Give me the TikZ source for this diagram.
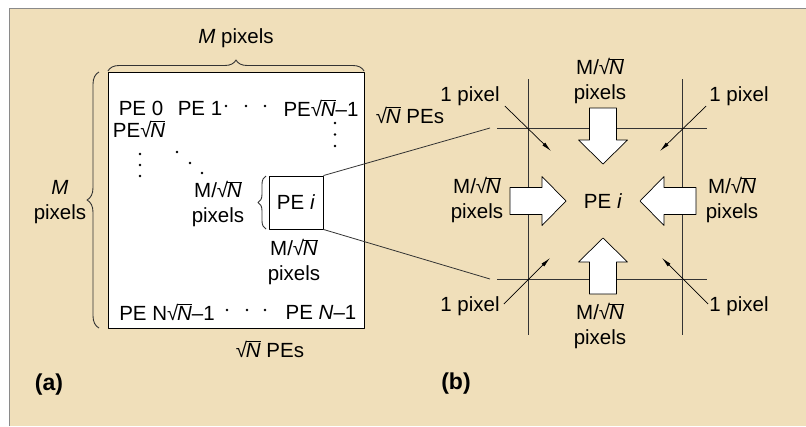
\documentclass[tikz,border=0pt]{standalone}
\usepackage{fontspec}
\setmainfont{Liberation Sans}
\usetikzlibrary{arrows.meta,decorations.pathreplacing}
\definecolor{pbTan}{HTML}{F0DFBA}
\definecolor{pbLine}{HTML}{333333}
\definecolor{pbFrame}{HTML}{8A8A8A}
\newcommand\rootN{√\kern-.06em$\overline{\mbox{\itshape N}}$}
\newcommand\mrootN{M/\rootN}
\begin{document}
\begin{tikzpicture}[x=1pt,y=-1pt,>=Latex,line join=round,font=\fontsize{20.5}{25}\selectfont]
\useasboundingbox (0,0) rectangle (806,426);
\path[fill=pbTan] (9,8) rectangle (806,426);
\draw[pbFrame,line width=0.8pt] (9,426) -- (9,8) -- (806,8);
\tikzset{lbl/.style={inner sep=0pt,align=center,text=black},brace/.style={draw=pbLine,line width=0.9pt,decorate,decoration={brace,amplitude=#1}},gridline/.style={draw=pbLine,line width=0.9pt},ptr/.style={draw=black,line width=0.7pt,-{Latex[length=10pt,width=4pt]}},blk/.style={draw=black,fill=white,line width=0.7pt},dot/.style={fill=black},panel/.style={lbl,font=\fontsize{23}{25}\selectfont\bfseries}}
% (a) the whole image
\node[draw=black,fill=white,line width=0.9pt,minimum size=256pt,inner sep=0pt] (img) at (236,200) {};
\draw[brace=11] (108,71) -- (364,71); \draw[brace=12] (99,328) -- (99,72);
\node[lbl] (mtop) at (236,38) {\textit{M} pixels}; \node[lbl] (mleft) at (60,202) {\textit{M}\\pixels};
\node[lbl] (pe0) at (141,108) {PE 0}; \node[lbl] (pe1) at (200,108) {PE 1}; \node[lbl] (perow) at (321,108) {PE\rootN\textendash1};
\node[lbl] (pecol) at (139,129) {PE\rootN};
\node[lbl] (pelast0) at (167,312) {PE N\rootN\textendash1}; \node[lbl] (pelast) at (321,312) {PE \textit{N}\textendash1};
\foreach \p in {(226,106),(246,106),(265,106),(227,310),(247,310),(265,310),(335,123),(335,134.5),(335,146),(140,154),(140,165),(140,176),(177,152),(190,163),(202,173)} \fill[dot] \p circle (1.3);
\node[draw=black,fill=white,line width=0.9pt,minimum width=54pt,minimum height=53pt,inner sep=0pt] (pei) at (296,202.5) {PE \textit{i}};
\draw[brace=8] (266,229) -- (266,176);
\node[lbl] (peiside) at (218,204) {\mrootN\\pixels}; \node[lbl] (peibelow) at (294,262) {\mrootN\\pixels};
\node[lbl] (pesbot) at (270,349) {\rootN\ PEs}; \node[lbl] (pesright) at (410,115) {\rootN\ PEs};
\node[panel] (capa) at (49,385) {(a)};
% (b) one PE and its neighbours
\coordinate (gtl) at (490,128); \coordinate (gbl) at (490,279);
\draw[gridline] (497,128) -- (707,128); \draw[gridline] (497,279) -- (707,279);
\draw[gridline] (528,79) -- (528,335); \draw[gridline] (682,79) -- (682,335);
\draw[draw=pbLine,line width=0.8pt] (pei.north east) -- (gtl); \draw[draw=pbLine,line width=0.8pt] (pei.south east) -- (gbl);
\foreach \a in {0,90,180,270} \draw[blk,shift={(603,201)},rotate=\a] (-37,0) -- (-61,-24.5) -- (-61,-13.5) -- (-93,-13.5) -- (-93,13.5) -- (-61,13.5) -- (-61,24.5) -- cycle;
\node[lbl] (pecentre) at (603,201) {PE \textit{i}};
\node[lbl] (mtopb) at (600,81) {\mrootN\\pixels}; \node[lbl] (mbotb) at (600,326) {\mrootN\\pixels};
\node[lbl] (mleftb) at (477,200) {\mrootN\\pixels}; \node[lbl] (mrightb) at (732,200) {\mrootN\\pixels};
\node[lbl] (pxtl) at (470,96) {1 pixel}; \node[lbl] (pxtr) at (739,96) {1 pixel};
\node[lbl] (pxbl) at (470,306) {1 pixel}; \node[lbl] (pxbr) at (739,306) {1 pixel};
\coordinate (ctl) at (551,151); \coordinate (ctr) at (660,151); \coordinate (cbl) at (550,258); \coordinate (cbr) at (662,258);
\draw[ptr] ([shift={(5,10)}]pxtl.east) -- (ctl); \draw[ptr] ([shift={(-3,10)}]pxtr.west) -- (ctr);
\draw[ptr] ([shift={(4,-2)}]pxbl.east) -- (cbl); \draw[ptr] ([shift={(-1,-2)}]pxbr.west) -- (cbr);
\node[panel] (capb) at (456,384) {(b)};
\end{tikzpicture}
\end{document}
